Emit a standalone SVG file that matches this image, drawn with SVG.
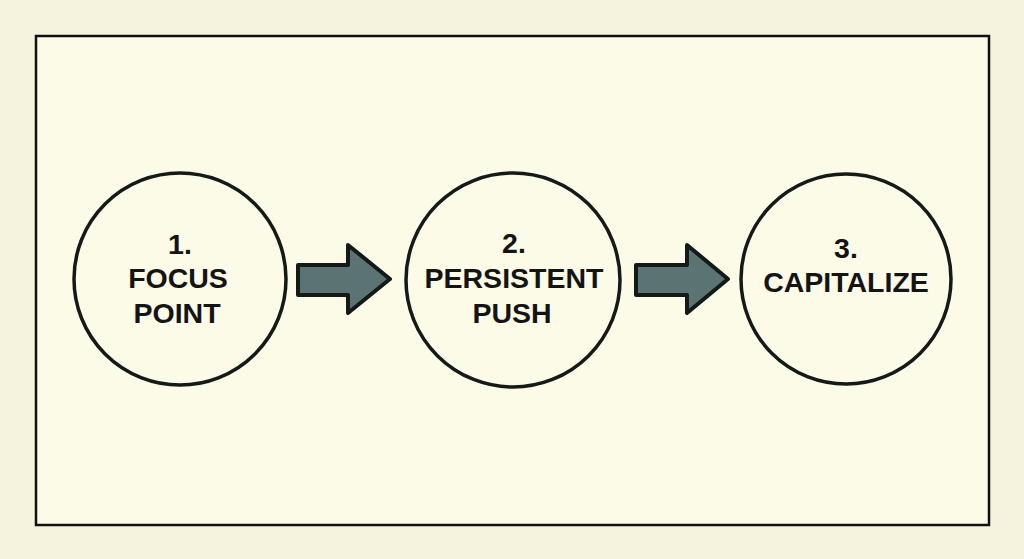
<svg xmlns="http://www.w3.org/2000/svg" width="1024" height="559" viewBox="0 0 1024 559">
  <style>
    .node { fill: none; stroke: #141a18; stroke-width: 3.5; }
    .label { font-family: "Liberation Sans", Arial, sans-serif; font-weight: 700; font-size: 28.5px; fill: #141414; text-anchor: middle; }
    .arrow { fill: #5b7373; stroke: #141a18; stroke-width: 4; stroke-linejoin: round; }
  </style>
  <rect x="0" y="0" width="1024" height="559" fill="#f5f3dd"/>
  <rect id="frame" x="36" y="36" width="953" height="489" fill="#fbfbe8" stroke="#111" stroke-width="2.5"/>
  <g id="node1">
    <circle class="node" cx="180" cy="279" r="106"/>
    <text class="label"><tspan x="180" y="254">1.</tspan><tspan x="178" y="288">FOCUS</tspan><tspan x="177" y="323">POINT</tspan></text>
  </g>
  <g id="node2">
    <circle class="node" cx="513" cy="280" r="107"/>
    <text class="label"><tspan x="514" y="253">2.</tspan><tspan x="514" y="288">PERSISTENT</tspan><tspan x="512" y="323">PUSH</tspan></text>
  </g>
  <g id="node3">
    <circle class="node" cx="846" cy="279" r="105"/>
    <text class="label"><tspan x="846" y="258">3.</tspan><tspan x="846" y="292">CAPITALIZE</tspan></text>
  </g>
  <g id="connectors">
    <path class="arrow" d="M298 265 L348 265 L348 245 L390 279 L348 313 L348 295 L298 295 Z"/>
    <path class="arrow" d="M636 265 L687 265 L687 245 L728 279 L687 313 L687 295 L636 295 Z"/>
  </g>
</svg>
